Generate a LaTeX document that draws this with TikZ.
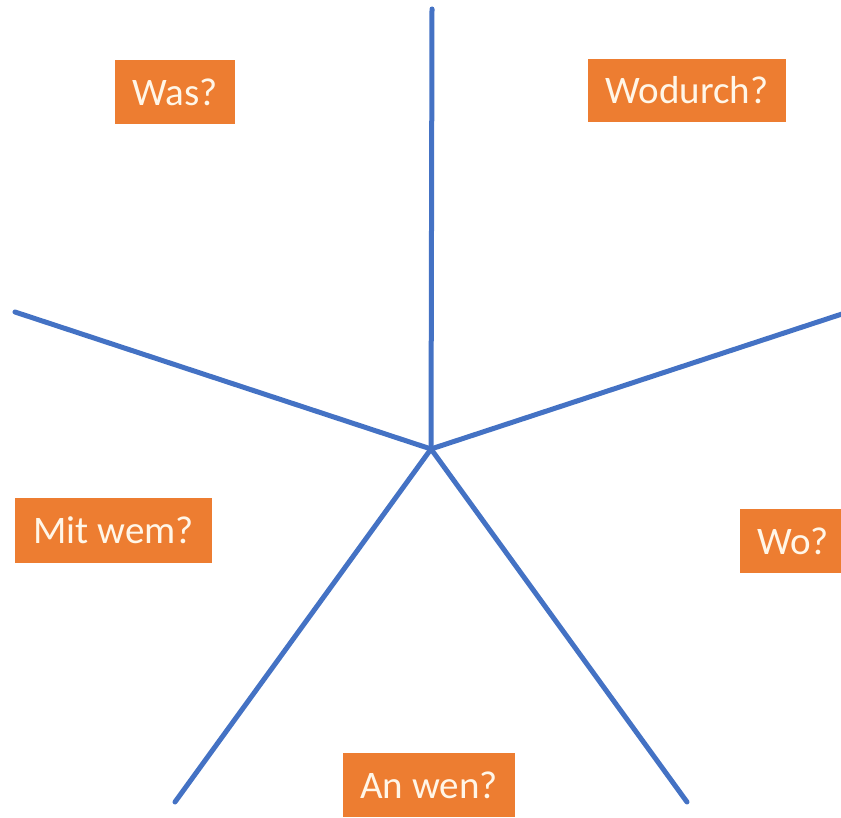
\documentclass[tikz,border=0pt]{standalone}
\usepackage{fontspec}
\setmainfont{Carlito}
\definecolor{lineblue}{HTML}{4472C4}
\definecolor{boxorange}{HTML}{ED7D31}
\definecolor{boxtext}{HTML}{FFF6E8}
\begin{document}
\begin{tikzpicture}[x=1pt,y=-1pt,
  spoke/.style={draw=lineblue,line width=5pt,line cap=round},
  qbox/.style={fill=boxorange,draw=none,inner sep=0pt,text=boxtext,
    font=\fontsize{39}{44}\selectfont,anchor=center}]
\useasboundingbox (0,0) rectangle (841,818);
\coordinate (c) at (431,449);
\coordinate (top) at (432,9);
\coordinate (ul) at (15,312);
\coordinate (ur) at (845,313);
\coordinate (ll) at (175,802);
\coordinate (lr) at (687,802);
\draw[spoke] (c) -- (top);
\draw[spoke] (c) -- (ul);
\draw[spoke] (c) -- (ur);
\draw[spoke] (c) -- (ll);
\draw[spoke] (c) -- (lr);
\node[qbox,minimum width=120pt,minimum height=64pt] (was) at (175,92) {Was?};
\node[qbox,minimum width=198pt,minimum height=63pt] (wodurch) at (687,90.5) {Wodurch?};
\node[qbox,minimum width=197pt,minimum height=65pt] (mitwem) at (113.5,530.5) {Mit wem?};
\node[qbox,minimum width=106pt,minimum height=64pt,text width=100pt,align=left] (wo) at (793,541) {\hspace*{14pt}Wo?};
\node[qbox,minimum width=172pt,minimum height=64pt] (anwen) at (429,785) {An wen?};
\end{tikzpicture}
\end{document}
